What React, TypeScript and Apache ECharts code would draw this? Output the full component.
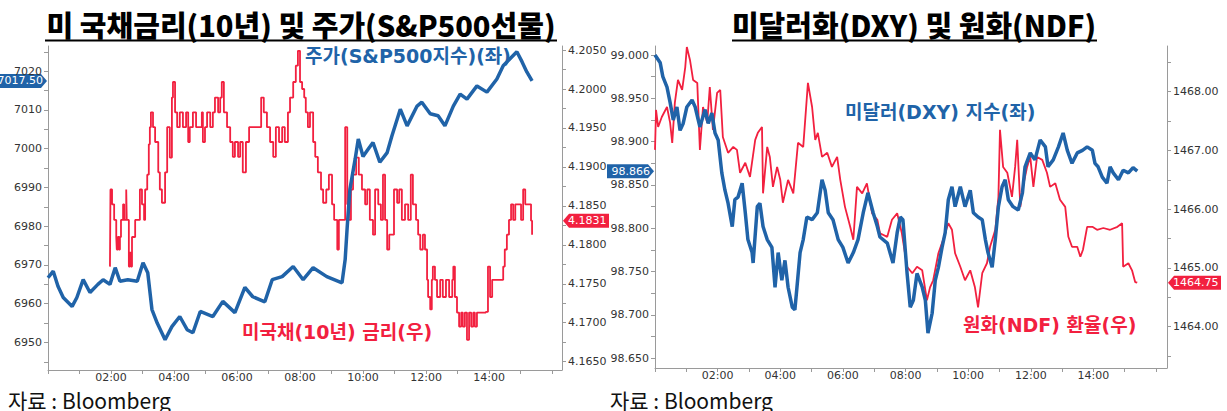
import React, { useEffect, useRef } from "react";
import * as echarts from "echarts";

// ---------- DATA (minutes after 00:00, value) ----------
const spxSeries: [number, number][] = [
  [0, 6966.7], [10, 6968.4], [19, 6964.5], [29, 6961.6], [46, 6959.3], [55, 6961.6], [67, 6966.2], [80, 6962.9],
  [95, 6965.0], [105, 6966.2], [118, 6965.0], [128, 6969.3], [137, 6965.8], [152, 6966.2], [170, 6965.8], [181, 6970.6],
  [190, 6968.0], [198, 6958.5], [208, 6955.0], [223, 6950.7], [236, 6954.1], [251, 6956.7], [265, 6953.3], [276, 6952.5],
  [290, 6958.0], [314, 6956.7], [333, 6960.6], [356, 6957.7], [375, 6964.2], [390, 6961.8], [413, 6960.5], [427, 6966.2],
  [446, 6967.0], [467, 6969.6], [486, 6966.2], [505, 6969.3], [531, 6967.0], [560, 6965.4], [566, 6971.4], [570, 6980.0],
  [575, 6989.5], [585, 6997.3], [591, 7002.5], [600, 6998.0], [610, 6999.9], [619, 7001.6], [632, 6996.5], [646, 6999.0],
  [655, 7003.3], [671, 7010.2], [684, 7005.9], [703, 7011.0], [712, 7012.0], [728, 7009.0], [743, 7008.5], [756, 7005.9],
  [772, 7011.0], [785, 7014.1], [798, 7012.8], [817, 7016.2], [836, 7014.6], [855, 7018.0], [867, 7021.4], [880, 7023.2],
  [893, 7025.0], [903, 7022.4], [912, 7019.8], [922, 7017.5],
];

const ustSeries: [number, number][] = [
  [118, 4.1772], [119, 4.1871], [122, 4.1852], [126, 4.1832], [130, 4.181], [131, 4.1794], [133, 4.181], [135, 4.1794],
  [137, 4.181], [139, 4.1832], [143, 4.1852], [145, 4.1832], [149, 4.1871], [150, 4.1832], [154, 4.1772], [156, 4.179],
  [158, 4.1772], [160, 4.181], [166, 4.1832], [175, 4.1871], [179, 4.1852], [183, 4.1832], [185, 4.1871], [189, 4.189],
  [192, 4.1929], [194, 4.1951], [196, 4.197], [200, 4.1951], [204, 4.1932], [210, 4.1893], [213, 4.1871], [217, 4.1854],
  [223, 4.1893], [227, 4.1951], [232, 4.1912], [236, 4.1989], [238, 4.2009], [242, 4.197], [246, 4.1951], [251, 4.197],
  [257, 4.1951], [263, 4.197], [267, 4.1932], [270, 4.1951], [276, 4.197], [282, 4.1951], [293, 4.197], [295, 4.1932],
  [299, 4.1951], [303, 4.197], [309, 4.1951], [314, 4.197], [318, 4.1989], [324, 4.197], [328, 4.1989], [331, 4.2009],
  [335, 4.197], [341, 4.1951], [347, 4.1932], [352, 4.1913], [356, 4.1932], [362, 4.1913], [366, 4.1932], [371, 4.1893],
  [377, 4.1932], [383, 4.1951], [394, 4.1951], [406, 4.1989], [411, 4.197], [417, 4.1951], [423, 4.1932], [429, 4.1913],
  [434, 4.1951], [440, 4.1932], [446, 4.1951], [451, 4.1932], [457, 4.197], [461, 4.1989], [467, 4.2009], [472, 4.203],
  [476, 4.2049], [480, 4.2009], [484, 4.2], [488, 4.1989], [491, 4.197], [495, 4.1951], [499, 4.197], [505, 4.1932],
  [509, 4.1913], [514, 4.1893], [520, 4.1871], [524, 4.1854], [530, 4.1871], [535, 4.189], [541, 4.1852], [545, 4.1832],
  [551, 4.1794], [554, 4.1832], [560, 4.1832], [566, 4.1951], [570, 4.1852], [573, 4.1832], [577, 4.1871], [581, 4.189],
  [587, 4.1912], [592, 4.189], [598, 4.1871], [604, 4.1852], [608, 4.1871], [613, 4.1832], [619, 4.1813], [623, 4.1871],
  [629, 4.1852], [634, 4.1832], [638, 4.189], [642, 4.1832], [646, 4.1794], [650, 4.1813], [659, 4.1871], [665, 4.1854],
  [669, 4.1871], [674, 4.1832], [680, 4.1852], [686, 4.1832], [691, 4.189], [695, 4.1852], [701, 4.1832], [705, 4.1813],
  [709, 4.1794], [714, 4.1813], [718, 4.1794], [722, 4.1755], [724, 4.1733], [728, 4.1717], [731, 4.1755], [733, 4.1772],
  [737, 4.1755], [741, 4.1733], [747, 4.1755], [752, 4.1733], [758, 4.1755], [764, 4.1733], [770, 4.1755], [772, 4.1772],
  [775, 4.1733], [779, 4.1713], [783, 4.1695], [787, 4.1713], [790, 4.1695], [794, 4.1713], [798, 4.1678], [802, 4.1713],
  [806, 4.1695], [810, 4.1713], [813, 4.1695], [817, 4.1713], [834, 4.1714], [838, 4.1772], [842, 4.1733], [846, 4.1755],
  [863, 4.1755], [867, 4.1772], [870, 4.1794], [874, 4.1813], [878, 4.1832], [882, 4.1852], [886, 4.1832], [890, 4.1852],
  [901, 4.1832], [905, 4.1871], [909, 4.1852], [918, 4.1852], [920, 4.1831], [922, 4.1813],
];

const dxySeries: [number, number][] = [
  [0, 99.0], [10, 98.991], [15, 98.975], [23, 98.963], [29, 98.945], [35, 98.925], [42, 98.94], [48, 98.913],
  [54, 98.921], [61, 98.94], [71, 98.948], [77, 98.94], [86, 98.917], [96, 98.937], [102, 98.921], [109, 98.933],
  [115, 98.91], [121, 98.902], [128, 98.864], [134, 98.844], [140, 98.829], [148, 98.802], [153, 98.833], [159, 98.836],
  [167, 98.852], [173, 98.818], [178, 98.787], [186, 98.772], [188, 98.76], [196, 98.825], [201, 98.829], [207, 98.802],
  [215, 98.787], [224, 98.778], [230, 98.732], [236, 98.772], [243, 98.74], [249, 98.763], [255, 98.732], [263, 98.709],
  [268, 98.706], [272, 98.732], [278, 98.772], [284, 98.787], [291, 98.813], [301, 98.81], [311, 98.818], [320, 98.856],
  [326, 98.844], [332, 98.818], [341, 98.81], [351, 98.787], [360, 98.778], [370, 98.76], [380, 98.772], [389, 98.787],
  [399, 98.818], [408, 98.841], [418, 98.818], [426, 98.802], [431, 98.79], [445, 98.783], [456, 98.76], [464, 98.795],
  [470, 98.813], [475, 98.81], [483, 98.748], [489, 98.709], [495, 98.717], [502, 98.748], [512, 98.732], [518, 98.717],
  [523, 98.679], [531, 98.702], [537, 98.74], [543, 98.755], [550, 98.778], [556, 98.795], [562, 98.833], [569, 98.848],
  [575, 98.825], [585, 98.848], [594, 98.825], [604, 98.844], [610, 98.818], [619, 98.813], [627, 98.81], [633, 98.787],
  [638, 98.772], [646, 98.755], [652, 98.787], [658, 98.825], [665, 98.848], [671, 98.856], [677, 98.833], [686, 98.825],
  [696, 98.821], [704, 98.841], [709, 98.871], [719, 98.887], [728, 98.879], [738, 98.902], [748, 98.894], [753, 98.871],
  [763, 98.879], [773, 98.894], [782, 98.91], [790, 98.89], [799, 98.875], [809, 98.887], [819, 98.89], [828, 98.894],
  [838, 98.89], [843, 98.875], [849, 98.871], [857, 98.859], [866, 98.852], [872, 98.871], [878, 98.864], [888, 98.856],
  [897, 98.867], [907, 98.864], [916, 98.87], [924, 98.866],
];

const ndfSeries: [number, number][] = [
  [0, 1467.01], [2, 1467.69], [6, 1467.4], [13, 1467.57], [23, 1467.74], [29, 1467.47], [33, 1467.13], [38, 1467.81],
  [44, 1468.2], [52, 1468.03], [58, 1468.42], [61, 1468.76], [67, 1468.54], [73, 1468.2], [81, 1468.15], [86, 1467.01],
  [92, 1467.74], [100, 1467.47], [105, 1468.08], [111, 1467.35], [119, 1467.98], [125, 1468.03], [130, 1467.23], [140, 1466.96],
  [150, 1467.06], [157, 1467.01], [163, 1466.62], [173, 1466.79], [182, 1466.55], [192, 1467.18], [197, 1467.3], [205, 1467.4],
  [207, 1466.27], [215, 1467.06], [220, 1466.89], [226, 1466.38], [234, 1466.72], [240, 1466.5], [245, 1466.11], [255, 1466.5],
  [265, 1466.27], [274, 1467.13], [284, 1467.06], [293, 1468.15], [301, 1467.74], [307, 1467.18], [312, 1467.3], [320, 1466.89],
  [330, 1466.96], [339, 1466.72], [349, 1466.89], [355, 1466.5], [364, 1466.04], [374, 1465.7], [380, 1465.48], [387, 1466.38],
  [397, 1466.27], [406, 1466.44], [416, 1465.93], [426, 1465.82], [431, 1465.59], [445, 1465.53], [454, 1465.82], [464, 1465.93],
  [473, 1465.59], [483, 1465.02], [493, 1464.91], [502, 1465.02], [512, 1464.96], [521, 1464.45], [527, 1464.67], [533, 1464.79],
  [543, 1465.25], [552, 1465.48], [562, 1465.76], [569, 1465.65], [575, 1465.25], [585, 1465.02], [594, 1464.79], [604, 1464.96],
  [613, 1464.67], [619, 1464.33], [627, 1464.91], [636, 1465.08], [642, 1465.36], [652, 1465.65], [658, 1466.21], [661, 1467.35],
  [667, 1466.72], [675, 1466.62], [684, 1466.21], [690, 1466.72], [694, 1467.18], [700, 1466.04], [705, 1466.38], [713, 1466.72],
  [719, 1466.89], [725, 1466.38], [732, 1466.89], [742, 1466.84], [751, 1466.62], [757, 1466.38], [767, 1466.44], [776, 1466.16],
  [786, 1466.04], [792, 1465.53], [799, 1465.36], [809, 1465.36], [815, 1465.19], [820, 1465.31], [828, 1465.7], [838, 1465.7],
  [847, 1465.65], [859, 1465.68], [872, 1465.65], [886, 1465.7], [895, 1465.76], [897, 1465.02], [907, 1465.08], [914, 1464.96],
  [920, 1464.76], [924, 1464.75],
];

// last-value tags
const spxLast = 7017.5;
const ustLast = 4.1831;
const dxyLast = 98.866;
const ndfLast = 1464.75;

// axis ticks / labels
const timeTickMarks = [0, 60, 120, 180, 240, 300, 360, 420, 480, 540, 600, 660, 720, 780, 840, 900, 960];
const timeLabels = [120, 240, 360, 480, 600, 720, 840];
const spxLabels = [6950, 6960, 6970, 6980, 6990, 7000, 7010, 7020];
const spxTickMarks = [6945, 6950, 6955, 6960, 6965, 6970, 6975, 6980, 6985, 6990, 6995, 7000, 7005, 7010, 7015, 7020, 7025];
const ustLabels = [4.165, 4.17, 4.175, 4.18, 4.185, 4.19, 4.195, 4.2, 4.205];
const ustTickMarks = [4.165, 4.1675, 4.17, 4.1725, 4.175, 4.1775, 4.18, 4.1825, 4.185, 4.1875, 4.19, 4.1925, 4.195, 4.1975, 4.2, 4.2025, 4.205];
const dxyLabels = [98.65, 98.7, 98.75, 98.8, 98.85, 98.9, 98.95, 99.0];
const dxyTickMarks = [98.65, 98.675, 98.7, 98.725, 98.75, 98.775, 98.8, 98.825, 98.85, 98.875, 98.9, 98.925, 98.95, 98.975, 99.0];
const ndfLabels = [1464, 1465, 1466, 1467, 1468];
const ndfTickMarks = [1463.5, 1464, 1464.5, 1465, 1465.5, 1466, 1466.5, 1467, 1467.5, 1468, 1468.5];

const titleLeft = "미 국채금리(10년) 및 주가(S&P500선물)";
const titleRight = "미달러화(DXY) 및 원화(NDF)";
const sourceText = "자료 : Bloomberg";
const noteSpx = "주가(S&P500지수)(좌)";
const noteUst = "미국채(10년) 금리(우)";
const noteDxy = "미달러(DXY) 지수(좌)";
const noteNdf = "원화(NDF) 환율(우)";

const BLUE = "#2063a8";
const RED = "#f2203f";
const AXIS = "#9a9a9a";
const LABEL_FONT = "DejaVu Sans";
const CJK = "Noto Sans CJK KR";
const NOTE_FONT = "DejaVu Sans, Noto Sans CJK KR";

export default function App() {
  const ref = useRef<HTMLDivElement>(null);

  useEffect(() => {
    const chart = echarts.init(ref.current!, null, { renderer: "svg" });

    const fmtTime = (v: number) => `${String(Math.floor(v / 60)).padStart(2, "0")}:00`;

    const xAxisBase = (gridIndex: number, max: number) => ({
      type: "value",
      gridIndex,
      min: 0,
      max,
      axisLine: { show: true, lineStyle: { color: AXIS } },
      axisTick: { show: true, length: 4, lineStyle: { color: AXIS }, customValues: timeTickMarks },
      axisLabel: {
        customValues: timeLabels,
        formatter: fmtTime,
        fontFamily: LABEL_FONT,
        fontSize: 11,
        color: "#333",
        margin: 2,
      },
      splitLine: { show: false },
    });

    const yAxisBase = (
      gridIndex: number,
      position: string,
      min: number,
      max: number,
      labels: number[],
      ticks: number[],
      digits: number
    ) => ({
      type: "value",
      gridIndex,
      position,
      min,
      max,
      axisLine: { show: true, lineStyle: { color: AXIS } },
      axisTick: { show: true, length: 4, lineStyle: { color: AXIS }, customValues: ticks },
      axisLabel: {
        customValues: labels,
        formatter: (v: number) => (digits === 0 ? String(Math.round(v)) : v.toFixed(digits)),
        fontFamily: LABEL_FONT,
        fontSize: 11,
        color: "#333",
        margin: 6,
      },
      splitLine: { show: false },
    });

    const option: any = {
      animation: false,
      backgroundColor: "#fff",
      grid: [
        { left: 48, top: 46, width: 514, height: 324 },
        { left: 655, top: 46, width: 512, height: 322 },
      ],
      xAxis: [xAxisBase(0, 979), xAxisBase(1, 981)],
      yAxis: [
        yAxisBase(0, "left", 6942.9, 7026.5, spxLabels, spxTickMarks, 0),
        yAxisBase(0, "right", 4.16393, 4.20552, ustLabels, ustTickMarks, 4),
        yAxisBase(1, "left", 98.6388, 99.0104, dxyLabels, dxyTickMarks, 3),
        yAxisBase(1, "right", 1463.297, 1468.778, ndfLabels, ndfTickMarks, 2),
      ],
      series: [
        {
          type: "line",
          xAxisIndex: 0,
          yAxisIndex: 1,
          data: ustSeries,
          step: "end",
          showSymbol: false,
          silent: true,
          lineStyle: { color: RED, width: 1.8 },
          itemStyle: { color: RED },
        },
        {
          type: "line",
          xAxisIndex: 0,
          yAxisIndex: 0,
          data: spxSeries,
          showSymbol: false,
          silent: true,
          lineStyle: { color: BLUE, width: 3.5 },
          itemStyle: { color: BLUE },
        },
        {
          type: "line",
          xAxisIndex: 1,
          yAxisIndex: 3,
          data: ndfSeries,
          showSymbol: false,
          silent: true,
          lineStyle: { color: RED, width: 1.8 },
          itemStyle: { color: RED },
        },
        {
          type: "line",
          xAxisIndex: 1,
          yAxisIndex: 2,
          data: dxySeries,
          showSymbol: false,
          silent: true,
          lineStyle: { color: BLUE, width: 3.5 },
          itemStyle: { color: BLUE },
        },
      ],
    };

    chart.setOption(option);

    const ySpx = chart.convertToPixel({ yAxisIndex: 0 } as any, spxLast) as number;
    const yUst = chart.convertToPixel({ yAxisIndex: 1 } as any, ustLast) as number;
    const yDxy = chart.convertToPixel({ yAxisIndex: 2 } as any, dxyLast) as number;
    const yNdf = chart.convertToPixel({ yAxisIndex: 3 } as any, ndfLast) as number;

    const h = 7;
    const leftTag = (x0: number, axisX: number, y: number, color: string, text: string) => [
      {
        type: "polygon",
        silent: true,
        shape: { points: [[x0, y - h], [axisX - 7, y - h], [axisX - 1, y], [axisX - 7, y + h], [x0, y + h]] },
        style: { fill: color },
      },
      {
        type: "text",
        silent: true,
        x: axisX - 5,
        y,
        style: { text, fill: "#fff", font: `11px ${LABEL_FONT}`, textAlign: "right", textVerticalAlign: "middle" },
      },
    ];
    const rightTag = (axisX: number, x1: number, y: number, color: string, text: string) => [
      {
        type: "polygon",
        silent: true,
        shape: { points: [[axisX + 1, y], [axisX + 7, y - h], [x1, y - h], [x1, y + h], [axisX + 7, y + h]] },
        style: { fill: color },
      },
      {
        type: "text",
        silent: true,
        x: axisX + 6,
        y,
        style: { text, fill: "#fff", font: `11px ${LABEL_FONT}`, textAlign: "left", textVerticalAlign: "middle" },
      },
    ];

    const titleText = (x: number, text: string) => ({
      type: "text",
      silent: true,
      x,
      y: 24,
      style: { text, fill: "#000", font: `900 29px ${CJK}`, textAlign: "center", textVerticalAlign: "middle" },
    });
    const underline = (x1: number, x2: number) => ({
      type: "line",
      silent: true,
      shape: { x1, y1: 40.5, x2, y2: 40.5 },
      style: { stroke: "#000", lineWidth: 2 },
    });
    const note = (x: number, y: number, text: string, color: string) => ({
      type: "text",
      silent: true,
      x,
      y,
      style: { text, fill: color, font: `bold 19px ${NOTE_FONT}`, textAlign: "left", textVerticalAlign: "middle" },
    });
    const source = (x: number) => ({
      type: "text",
      silent: true,
      x,
      y: 400,
      style: { text: sourceText, fill: "#111", font: `21px ${CJK}`, textAlign: "left", textVerticalAlign: "middle" },
    });

    chart.setOption({
      graphic: [
        titleText(301, titleLeft),
        underline(45, 557),
        titleText(914, titleRight),
        underline(732, 1097),
        note(305, 56, noteSpx, BLUE),
        note(242, 332, noteUst, RED),
        note(845, 112, noteDxy, BLUE),
        note(963, 325, noteNdf, RED),
        source(8),
        source(610),
        ...leftTag(-4, 48, ySpx, BLUE, spxLast.toFixed(2)),
        ...rightTag(562, 609, yUst, RED, ustLast.toFixed(4)),
        ...leftTag(607, 655, yDxy, BLUE, dxyLast.toFixed(3)),
        ...rightTag(1167, 1221, yNdf, RED, ndfLast.toFixed(2)),
      ],
    });

    return () => chart.dispose();
  }, []);

  return (
    <div
      ref={ref}
      style={{ position: "absolute", left: 0, top: 0, width: 1227, height: 411, background: "#fff" }}
    />
  );
}
